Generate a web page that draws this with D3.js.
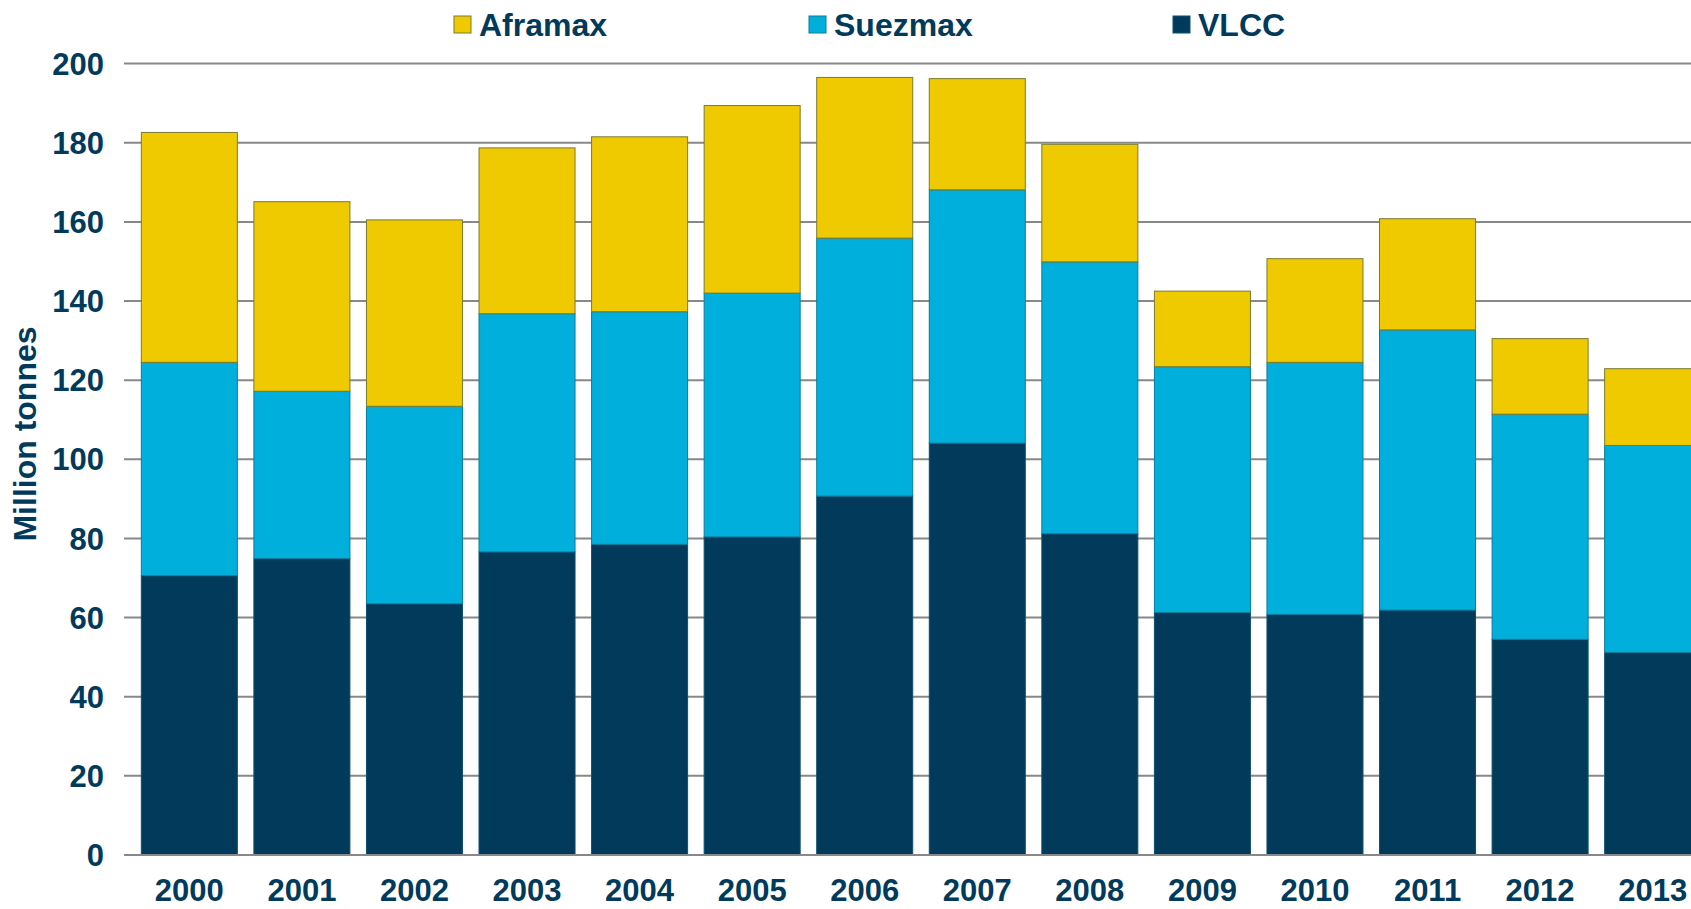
<!DOCTYPE html>
<html>
<head>
<meta charset="utf-8">
<script src="https://cdn.jsdelivr.net/npm/d3@7"></script>
<style>
  body { margin: 0; background: #fff; }
  text { font-family: "Liberation Sans", Arial, sans-serif; font-weight: bold; fill: #023a5c; }
</style>
</head>
<body>
<div id="chart"></div>
<script>
// Données (millions de tonnes)
const years = ["2000", "2001", "2002", "2003", "2004", "2005", "2006", "2007", "2008", "2009", "2010", "2011", "2012", "2013"];
const vlcc     = [70.6, 74.9, 63.5, 76.6, 78.5, 80.4, 90.7, 104.1, 81.2, 61.3, 60.8, 61.9, 54.5, 51.2];
const suezmax  = [53.9, 42.3, 49.9, 60.2, 58.8, 61.6, 65.2, 64.0, 68.7, 62.1, 63.7, 70.8, 56.9, 52.3];
const aframax  = [58.1, 47.9, 47.1, 41.9, 44.2, 47.4, 40.6, 28.1, 29.7, 19.1, 26.2, 28.1, 19.1, 19.4];
const series = ["VLCC", "Suezmax", "Aframax"];
const legendOrder = ["Aframax", "Suezmax", "VLCC"];
const yTicks = [0, 20, 40, 60, 80, 100, 120, 140, 160, 180, 200];

const width = 1691;
const height = 909;

const colors = { VLCC: "#023a5c", Suezmax: "#00afdb", Aframax: "#f0ca00" };
const strokes = { VLCC: "#0d4f6e", Suezmax: "#0a7c9c", Aframax: "#7a7a32" };

const table = years.map((y, i) => ({ year: y, VLCC: vlcc[i], Suezmax: suezmax[i], Aframax: aframax[i] }));
const stacked = d3.stack().keys(series)(table);

const x = d3.scaleBand()
    .domain(years)
    .range([133, 1709])
    .paddingInner(0.147)
    .paddingOuter(0.074);

const y = d3.scaleLinear()
    .domain([0, 200])
    .range([855, 63.6]);

const svg = d3.select("#chart")
    .append("svg")
    .attr("width", width)
    .attr("height", height);

// Grille horizontale
svg.append("g")
    .selectAll("line")
    .data(yTicks)
    .join("line")
    .attr("x1", 124)
    .attr("x2", width)
    .attr("y1", d => y(d))
    .attr("y2", d => y(d))
    .attr("stroke", "#888")
    .attr("stroke-width", 2);

// Barres empilées
svg.append("g")
    .selectAll("g")
    .data(stacked)
    .join("g")
    .attr("fill", d => colors[d.key])
    .attr("stroke", d => strokes[d.key])
    .attr("stroke-width", 1)
    .selectAll("rect")
    .data(d => d)
    .join("rect")
    .attr("x", d => x(d.data.year))
    .attr("width", x.bandwidth())
    .attr("y", d => y(d[1]))
    .attr("height", d => y(d[0]) - y(d[1]));

// Ligne de base
svg.append("line")
    .attr("x1", 124).attr("x2", width)
    .attr("y1", y(0)).attr("y2", y(0))
    .attr("stroke", "#888")
    .attr("stroke-width", 2);

// Axe Y (étiquettes)
svg.append("g")
    .selectAll("text")
    .data(yTicks)
    .join("text")
    .attr("x", 104)
    .attr("y", d => y(d))
    .attr("dy", "0.36em")
    .attr("text-anchor", "end")
    .style("font-size", "31px")
    .text(d => d);

// Axe X (années)
svg.append("g")
    .selectAll("text")
    .data(years)
    .join("text")
    .attr("x", d => x(d) + x.bandwidth() / 2)
    .attr("y", 901)
    .attr("text-anchor", "middle")
    .style("font-size", "31px")
    .text(d => d);

// Titre de l'axe Y
svg.append("text")
    .attr("transform", "translate(36, 434) rotate(-90)")
    .attr("text-anchor", "middle")
    .style("font-size", "32px")
    .text("Million tonnes");

// Légende
const legendX = { Aframax: 454, Suezmax: 809, VLCC: 1173 };
const legend = svg.append("g")
    .selectAll("g")
    .data(legendOrder)
    .join("g")
    .attr("transform", d => `translate(${legendX[d]},16)`);

legend.append("rect")
    .attr("width", 17)
    .attr("height", 17)
    .attr("fill", d => colors[d])
    .attr("stroke", d => strokes[d])
    .attr("stroke-width", 1);

legend.append("text")
    .attr("x", 25)
    .attr("y", 19.5)
    .style("font-size", "32px")
    .text(d => d);
</script>
</body>
</html>
